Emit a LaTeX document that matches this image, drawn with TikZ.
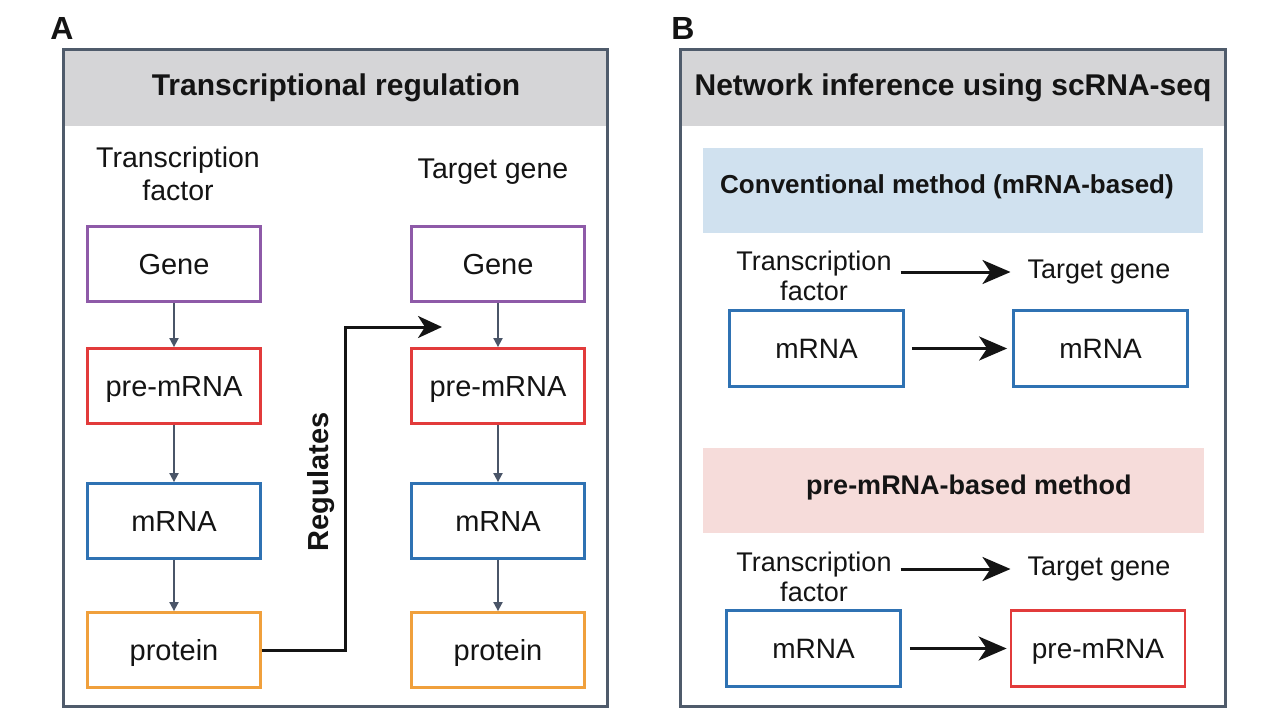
\documentclass[tikz,border=0pt]{standalone}
\usepackage{fontspec}
\setmainfont{Liberation Sans}
\usetikzlibrary{arrows.meta}
\definecolor{panelcol}{HTML}{4F5B6B}
\definecolor{hdrcol}{HTML}{D5D5D7}
\definecolor{bluebandcol}{HTML}{D0E1EF}
\definecolor{pinkbandcol}{HTML}{F6DCDA}
\definecolor{genecol}{HTML}{8E5AA8}
\definecolor{precol}{HTML}{E23B3B}
\definecolor{mrnacol}{HTML}{2F72B3}
\definecolor{protcol}{HTML}{F0A03C}
\definecolor{arrgray}{HTML}{4A5568}
\definecolor{inkcol}{HTML}{141414}
\begin{document}
\begin{tikzpicture}[x=1pt,y=-1pt,
  panelbox/.style={draw=panelcol,line width=3pt},
  boxA/.style={draw=#1,line width=2.8pt,minimum width=173pt,minimum height=75pt,inner sep=0pt,
    text height=20.8pt,text depth=0pt,
    font=\fontsize{29}{33}\selectfont,text=inkcol},
  boxB/.style={draw=#1,line width=2.8pt,minimum width=174pt,minimum height=76pt,inner sep=0pt,
    text height=20.1pt,text depth=0pt,
    font=\fontsize{28}{32}\selectfont,text=inkcol},
  lblA/.style={font=\fontsize{28.5}{33}\selectfont,align=center,inner sep=8pt,text=inkcol},
  lblB/.style={font=\fontsize{27}{30.5}\selectfont,align=center,inner sep=8pt,text=inkcol},
  titletext/.style={font=\bfseries\fontsize{30}{34}\selectfont,text=inkcol},
  bandtext/.style={font=\bfseries\fontsize{26}{30}\selectfont,text=inkcol},
  panellabel/.style={font=\bfseries\fontsize{32}{36}\selectfont,text=inkcol},
  smallarr/.style={draw=arrgray,line width=1.8pt,-{Triangle[length=9pt,width=9pt]}},
  regarr/.style={draw=inkcol,line width=3pt,-{Stealth[length=24pt,width=22pt,inset=7pt]}},
  barr/.style={draw=inkcol,line width=3pt,-{Stealth[length=28pt,width=24pt,inset=8pt]}}
]
\useasboundingbox (0,0) rectangle (1280,720);
\fill[white] (0,0) rectangle (1280,720);

% ---------- Panel A ----------
\node[panellabel] (labA) at (62,28) {A};
\fill[hdrcol] (63,49) rectangle (607,126);
\draw[panelbox] (63,49) rectangle (607,706);
\node[titletext] (titA) at (336,88) {Transcriptional regulation};

\node[lblA] (tfA) at (178,174) {Transcription\\factor};
\node[lblA] (tgA) at (493,172) {Target gene};

\node[boxA=genecol] (g1) at (174,264) {Gene};
\node[boxA=precol] (p1) at (174,386) {pre-mRNA};
\node[boxA=mrnacol] (m1) at (174,521) {mRNA};
\node[boxA=protcol] (r1) at (174,650) {protein};

\node[boxA=genecol] (g2) at (498,264) {Gene};
\node[boxA=precol] (p2) at (498,386) {pre-mRNA};
\node[boxA=mrnacol] (m2) at (498,521) {mRNA};
\node[boxA=protcol] (r2) at (498,650) {protein};

\draw[smallarr] (g1) -- (p1);
\draw[smallarr] (p1) -- (m1);
\draw[smallarr] (m1) -- (r1);
\draw[smallarr] (g2) -- (p2);
\draw[smallarr] (p2) -- (m2);
\draw[smallarr] (m2) -- (r2);

\coordinate (regbend) at (345,327);
\coordinate (regend) at (442,327);
\draw[regarr] (r1.east) -| (regbend) -- (regend);
\node[rotate=90,font=\bfseries\fontsize{29}{33}\selectfont,text=inkcol] (regl) at (321,482) {Regulates};

% ---------- Panel B ----------
\node[panellabel] (labB) at (683,28) {B};
\fill[hdrcol] (680,49) rectangle (1225,126);
\draw[panelbox] (680,49) rectangle (1225,706);
\node[titletext] (titB) at (953,88) {Network inference using scRNA-seq};

\fill[bluebandcol] (703,148) rectangle (1203,233);
\node[bandtext] (convt) at (947,187) {Conventional method (mRNA-based)};

\node[lblB] (tfB1) at (814,276) {Transcription\\factor};
\node[lblB] (tgB1) at (1099,272) {Target gene};
\draw[barr,shorten <=1pt,shorten >=9pt] (tfB1.east |- tgB1.west) -- (tgB1.west);

\node[boxB=mrnacol] (mB1) at (816.5,348.5) {mRNA};
\node[boxB=mrnacol] (mB2) at (1100.5,348.5) {mRNA};
\draw[barr,shorten <=7pt,shorten >=5pt] (mB1) -- (mB2);

\fill[pinkbandcol] (703,448) rectangle (1204,533);
\node[bandtext,font=\bfseries\fontsize{27}{30}\selectfont] (pret) at (969,488) {pre-mRNA-based method};

\node[lblB] (tfB2) at (814,577) {Transcription\\factor};
\node[lblB] (tgB2) at (1099,569) {Target gene};
\draw[barr,shorten <=1pt,shorten >=9pt] (tfB2.east |- tgB2.west) -- (tgB2.west);

\node[boxB=mrnacol] (mB3) at (813.5,648.5) {mRNA};
\node[boxB=precol] (pB4) at (1098,648.5) {pre-mRNA};
\draw[barr,shorten <=8pt,shorten >=3pt] (mB3) -- (pB4);
\end{tikzpicture}
\end{document}
